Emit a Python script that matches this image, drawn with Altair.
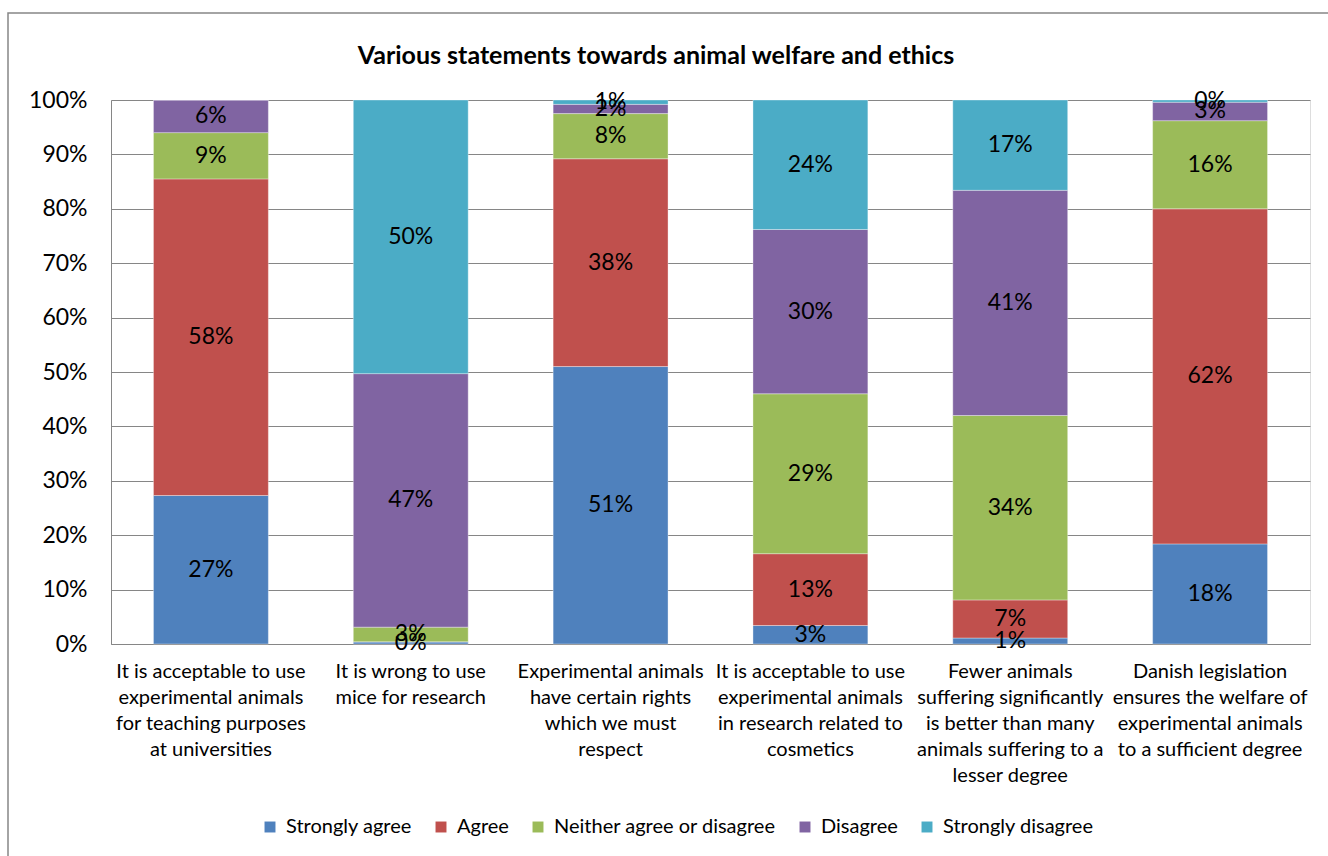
import altair as alt
import pandas as pd

categories = [
    "It is acceptable to use|experimental animals|for teaching purposes|at universities",
    "It is wrong to use|mice for research",
    "Experimental animals|have certain rights|which we must|respect",
    "It is acceptable to use|experimental animals|in research related to|cosmetics",
    "Fewer animals|suffering significantly|is better than many|animals suffering to a|lesser degree",
    "Danish legislation|ensures the welfare of|experimental animals|to a sufficient degree",
]
series = ["Strongly agree", "Agree", "Neither agree or disagree", "Disagree", "Strongly disagree"]
colors = ["#4F81BD", "#C0504D", "#9BBB59", "#8064A2", "#4BACC6"]
chart_title = "Various statements towards animal welfare and ethics"

strongly_agree = [27.3, 0.4, 51.0, 3.4, 1.1, 18.4]
agree = [58.2, 0.0, 38.2, 13.2, 7.0, 61.6]
neither = [8.5, 2.7, 8.3, 29.4, 33.9, 16.2]
disagree = [6.0, 46.6, 1.7, 30.2, 41.4, 3.4]
strongly_disagree = [0.0, 50.3, 0.8, 23.8, 16.6, 0.4]

values = [strongly_agree, agree, neither, disagree, strongly_disagree]
rows = []
for si, (s, vals) in enumerate(zip(series, values)):
    for ci, c in enumerate(categories):
        rows.append({"category": c, "series": s, "idx": si, "value": vals[ci]})
df = pd.DataFrame(rows)

FONT = "Lato"

x_enc = alt.X("category:N", sort=categories, title=None,
              scale=alt.Scale(paddingInner=0.425, paddingOuter=0.2125),
              axis=alt.Axis(labelExpr="split(datum.label, '|')", labelAngle=0,
                            labelFontSize=20, labelLineHeight=26, labelPadding=17,
                            labelColor="black", ticks=False, domainColor="#868686",
                            labelLimit=400, labelFont=FONT))

bars = alt.Chart(df).mark_bar(stroke="white", strokeWidth=0.6, strokeOpacity=0.6).encode(
    x=x_enc,
    y=alt.Y("value:Q", stack="zero", title=None,
            scale=alt.Scale(domain=[0, 100], nice=False),
            axis=alt.Axis(values=list(range(0, 101, 10)), labelExpr="datum.value + '%'",
                          labelFontSize=23, labelColor="black", labelPadding=24,
                          ticks=False, gridColor="#868686", domainColor="#868686",
                          labelFont=FONT)),
    color=alt.Color("series:N", sort=series,
                    scale=alt.Scale(domain=series, range=colors),
                    legend=alt.Legend(title=None, orient="none", direction="horizontal",
                                      legendX=149, legendY=717, symbolType="square",
                                      symbolSize=120, symbolStrokeWidth=0, labelFontSize=20,
                                      labelFont=FONT, labelColor="black", columnPadding=19,
                                      labelOffset=6, labelLimit=400)),
    order=alt.Order("idx:Q", sort="ascending"),
)

labels = alt.Chart(df).transform_window(
    cum="sum(value)", sort=[alt.SortField("idx")], groupby=["category"],
    frame=[None, 0]
).transform_calculate(
    mid="datum.cum - datum.value / 2",
    lab="format(datum.value / 100, '.0%')"
).transform_filter("datum.value > 0").mark_text(
    fontSize=23, color="black", font=FONT
).encode(
    x=alt.X("category:N", sort=categories),
    y=alt.Y("mid:Q"),
    text="lab:N",
)

title = alt.Chart(pd.DataFrame({"t": [chart_title]})).mark_text(
    fontSize=25, font=FONT, fontWeight="bold", color="black", baseline="middle", align="center"
).encode(
    x=alt.value(545), y=alt.value(-44), text="t:N"
)

frame = alt.Chart(pd.DataFrame({"a": [0]})).mark_rect(
    fill=None, stroke="#868686", strokeWidth=1.5, clip=False
).encode(
    x=alt.value(-103), x2=alt.value(1230), y=alt.value(-87), y2=alt.value(770)
)

chart = alt.layer(bars, labels, title, frame).properties(
    width=1199, height=544,
    autosize=alt.AutoSizeParams(type="none"),
    padding={"left": 111, "top": 100, "right": 18, "bottom": 212},
).configure_view(stroke=None).configure(background="white")

chart.save("out.html", embed_options={"renderer": "svg", "actions": False})
